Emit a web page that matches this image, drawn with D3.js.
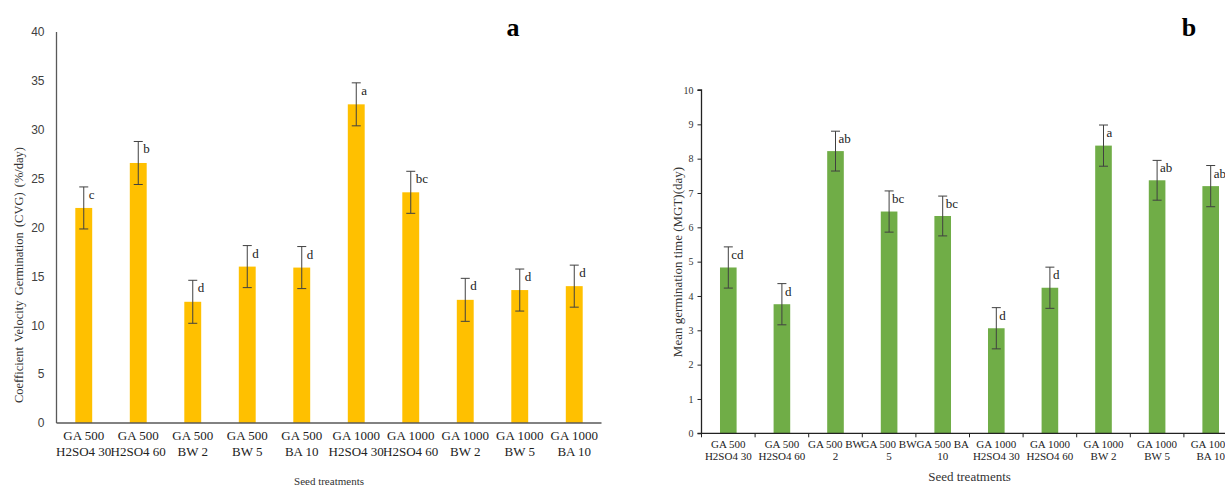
<!DOCTYPE html>
<html>
<head>
<meta charset="utf-8">
<script src="https://cdn.jsdelivr.net/npm/d3@7"></script>
<style>
  html, body { margin: 0; padding: 0; background: #fff; }
  svg { display: block; }
</style>
</head>
<body>
<svg id="chart" width="1225" height="486"></svg>
<script>
// Seed treatments (two-line labels)
const treatmentsA = [
  ["GA 500", "H2SO4 30"], ["GA 500", "H2SO4 60"], ["GA 500", "BW 2"], ["GA 500", "BW 5"], ["GA 500", "BA 10"],
  ["GA 1000", "H2SO4 30"], ["GA 1000", "H2SO4 60"], ["GA 1000", "BW 2"], ["GA 1000", "BW 5"], ["GA 1000", "BA 10"]
];
const treatmentsB = [
  ["GA 500", "H2SO4 30"], ["GA 500", "H2SO4 60"], ["GA 500 BW", "2"], ["GA 500 BW", "5"], ["GA 500 BA", "10"],
  ["GA 1000", "H2SO4 30"], ["GA 1000", "H2SO4 60"], ["GA 1000", "BW 2"], ["GA 1000", "BW 5"], ["GA 1000", "BA 10"]
];

// Panel a: coefficient velocity of germination (%/day)
const cvgMean  = [22.0, 26.6, 12.4, 16.0, 15.9, 32.6, 23.6, 12.6, 13.6, 14.0];
const cvgError = [2.15, 2.2, 2.2, 2.15, 2.15, 2.2, 2.15, 2.2, 2.15, 2.15];
const cvgGroup = ["c", "b", "d", "d", "d", "a", "bc", "d", "d", "d"];
const cvgTicks = [0, 5, 10, 15, 20, 25, 30, 35, 40];

// Panel b: mean germination time (day)
const mgtMean  = [4.83, 3.76, 8.22, 6.46, 6.33, 3.06, 4.24, 8.38, 7.37, 7.2];
const mgtError = [0.6, 0.6, 0.58, 0.6, 0.58, 0.6, 0.6, 0.6, 0.58, 0.6];
const mgtGroup = ["cd", "d", "ab", "bc", "bc", "d", "d", "a", "ab", "ab"];
const mgtTicks = [0, 1, 2, 3, 4, 5, 6, 7, 8, 9, 10];

const svg = d3.select("#chart");
const serif = "'Liberation Serif', 'Times New Roman', serif";
const sans = "'Liberation Sans', Arial, sans-serif";

function panel(opt) {
  const idx = d3.range(opt.values.length);
  const x = d3.scaleBand().domain(idx).range(opt.xRange)
    .paddingInner(opt.padIn).paddingOuter(opt.padIn / 2);
  const y = d3.scaleLinear().domain(opt.yDomain).range(opt.yRange);
  const g = svg.append("g");

  // y axis
  const yAxis = d3.axisLeft(y).tickValues(opt.ticks)
    .tickSize(opt.yTickSize).tickPadding(opt.yTickPad);
  const ya = g.append("g").attr("transform", `translate(${opt.xRange[0]},0)`).call(yAxis);
  ya.select(".domain").attr("stroke", opt.axisColor).attr("stroke-width", 1.3)
    .attr("d", `M${-opt.yTickSize},${y(opt.yDomain[1])}H0V${y(0)}`);
  if (opt.yTickSize === 0) ya.select(".domain").attr("d", `M0,${y(opt.yDomain[1])}V${y(0)}`);
  ya.selectAll(".tick line").attr("stroke", opt.axisColor);
  ya.selectAll(".tick text").attr("fill", opt.tickColor)
    .style("font-family", opt.tickFont).style("font-size", opt.tickSizePx + "px");

  // bars
  g.selectAll("rect.bar").data(opt.values).join("rect")
    .attr("class", "bar")
    .attr("x", (d, i) => x(i))
    .attr("width", x.bandwidth())
    .attr("y", d => y(d))
    .attr("height", d => y(0) - y(d))
    .attr("fill", opt.color);

  // x axis line
  g.append("line")
    .attr("x1", opt.xRange[0] - (opt.yTickSize || 0)).attr("x2", opt.xRange[1])
    .attr("y1", y(0)).attr("y2", y(0))
    .attr("stroke", opt.axisColor).attr("stroke-width", 1.3);

  // category boundary ticks
  if (opt.xTicks) {
    const step = x.step();
    g.selectAll("line.xt").data(d3.range(opt.values.length + 1)).join("line")
      .attr("class", "xt")
      .attr("x1", i => opt.xRange[0] + i * step).attr("x2", i => opt.xRange[0] + i * step)
      .attr("y1", y(0)).attr("y2", y(0) + 4)
      .attr("stroke", opt.axisColor).attr("stroke-width", 1);
  }

  // error bars
  const cap = 4.5;
  const eb = g.selectAll("g.err").data(opt.values).join("g").attr("class", "err")
    .attr("stroke", "#404040").attr("stroke-width", 1);
  eb.append("line")
    .attr("x1", (d, i) => x(i) + x.bandwidth() / 2).attr("x2", (d, i) => x(i) + x.bandwidth() / 2)
    .attr("y1", (d, i) => y(d + opt.errors[i])).attr("y2", (d, i) => y(d - opt.errors[i]));
  eb.append("line")
    .attr("x1", (d, i) => x(i) + x.bandwidth() / 2 - cap).attr("x2", (d, i) => x(i) + x.bandwidth() / 2 + cap)
    .attr("y1", (d, i) => y(d + opt.errors[i])).attr("y2", (d, i) => y(d + opt.errors[i]));
  eb.append("line")
    .attr("x1", (d, i) => x(i) + x.bandwidth() / 2 - cap).attr("x2", (d, i) => x(i) + x.bandwidth() / 2 + cap)
    .attr("y1", (d, i) => y(d - opt.errors[i])).attr("y2", (d, i) => y(d - opt.errors[i]));

  // significance letters
  g.selectAll("text.grp").data(opt.values).join("text")
    .attr("class", "grp")
    .attr("x", (d, i) => x(i) + x.bandwidth() / 2 + opt.letterDx)
    .attr("y", (d, i) => y(d + opt.errors[i]) + 12)
    .style("font-family", serif).style("font-size", "13px").attr("fill", "#222")
    .text((d, i) => opt.groups[i]);

  // category labels
  const lab = g.selectAll("text.cat").data(opt.cats).join("text")
    .attr("class", "cat")
    .attr("text-anchor", "middle")
    .style("font-family", serif).style("font-size", opt.catSize + "px").attr("fill", "#222");
  lab.each(function (d, i) {
    const t = d3.select(this);
    d.forEach((line, k) => {
      t.append("tspan").attr("x", x(i) + x.bandwidth() / 2)
        .attr("y", opt.catY[k]).text(line);
    });
  });

  // axis titles
  g.append("text")
    .attr("transform", `translate(${opt.yTitleX},${opt.yTitleY}) rotate(-90)`)
    .attr("text-anchor", "middle")
    .style("font-family", serif).style("font-size", opt.yTitleSize + "px").attr("fill", "#333")
    .style("word-spacing", opt.yTitleWordSpacing + "px")
    .text(opt.yTitle);
  g.append("text")
    .attr("x", (opt.xRange[0] + opt.xRange[1]) / 2).attr("y", opt.xTitleY)
    .attr("text-anchor", "middle")
    .style("font-family", serif).style("font-size", opt.xTitleSize + "px").attr("fill", "#333")
    .text("Seed treatments");

  // panel letter
  svg.append("text").attr("x", opt.tag[0]).attr("y", opt.tag[1])
    .attr("text-anchor", "middle")
    .style("font-family", serif).style("font-size", "26px").style("font-weight", "bold")
    .attr("fill", "#000").text(opt.tag[2]);
}

panel({
  values: cvgMean, errors: cvgError, groups: cvgGroup, cats: treatmentsA, ticks: cvgTicks,
  xRange: [56.5, 601.5], padIn: 0.69, yDomain: [0, 40], yRange: [423, 32],
  color: "#FFC000", axisColor: "#595959", tickColor: "#404040", tickFont: sans, tickSizePx: 12,
  yTickSize: 0, yTickPad: 12, xTicks: false, letterDx: 5, catSize: 13, catY: [440, 456],
  yTitle: "Coefficient Velocity Germination (CVG) (%/day)", yTitleX: 23, yTitleY: 275, yTitleSize: 12.5,
  yTitleWordSpacing: 2,
  xTitleY: 485, xTitleSize: 11, tag: [513, 36, "a"]
});

panel({
  values: mgtMean, errors: mgtError, groups: mgtGroup, cats: treatmentsB, ticks: mgtTicks,
  xRange: [701.5, 1237.5], padIn: 0.69, yDomain: [0, 10], yRange: [433.3, 90],
  color: "#70AD47", axisColor: "#222", tickColor: "#333", tickFont: serif, tickSizePx: 10,
  yTickSize: 4, yTickPad: 4, xTicks: true, letterDx: 3, catSize: 11, catY: [447.5, 460],
  yTitle: "Mean germination time (MGT)(day)", yTitleX: 682, yTitleY: 262, yTitleSize: 13,
  yTitleWordSpacing: 0,
  xTitleY: 481, xTitleSize: 13, tag: [1189, 36, "b"]
});
</script>
</body>
</html>
